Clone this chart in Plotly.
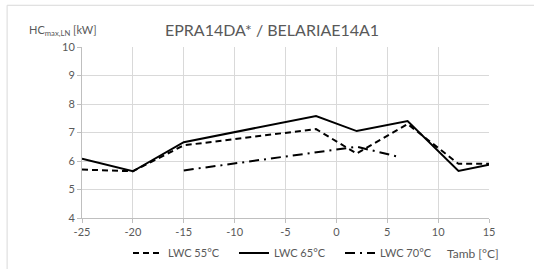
import plotly.graph_objects as go

x55 = [-25, -20, -15, -2, 2, 7, 12, 15]
y55 = [5.70, 5.64, 6.55, 7.12, 6.26, 7.30, 5.90, 5.90]
x65 = [-25, -20, -15, -2, 2, 7, 12, 15]
y65 = [6.08, 5.64, 6.66, 7.58, 7.05, 7.40, 5.65, 5.87]
x70 = [-15, -2, 2, 6.3]
y70 = [5.67, 6.32, 6.50, 6.13]
names = ["LWC 55°C", "LWC 65°C", "LWC 70°C"]
xticks = [-25, -20, -15, -10, -5, 0, 5, 10, 15]
xticklabels = ["-25", "-20", "-15", "-10", "-5", "0", "5", "10", "15"]

FONT = "Lato"
GRAY = "#595959"

fig = go.Figure()
fig.add_trace(go.Scatter(x=x55, y=y55, mode="lines", name=names[0],
                         line=dict(color="black", width=2, dash="6px,4px")))
fig.add_trace(go.Scatter(x=x65, y=y65, mode="lines", name=names[1],
                         line=dict(color="black", width=2)))
fig.add_trace(go.Scatter(x=x70, y=y70, mode="lines", name=names[2],
                         line=dict(color="black", width=2, dash="10px,5px,2px,5px")))

fig.update_layout(
    width=534, height=269,
    margin=dict(l=82, r=45, t=47, b=51),
    paper_bgcolor="white", plot_bgcolor="white",
    font=dict(family=FONT, color=GRAY, size=11),
    showlegend=True,
    legend=dict(orientation="h", x=0.113, xanchor="left", yref="container",
                y=0.0595, yanchor="middle",
                font=dict(size=11, color=GRAY), entrywidth=61, entrywidthmode="pixels",
                bgcolor="rgba(0,0,0,0)", tracegroupgap=0, itemwidth=30),
    xaxis=dict(range=[-25, 15], tickvals=xticks, ticktext=xticklabels,
               showgrid=True, gridcolor="#d9d9d9", gridwidth=1,
               showline=True, linecolor="#bfbfbf", linewidth=1,
               ticks="outside", ticklen=4, tickcolor="#bfbfbf",
               zeroline=False, tickfont=dict(size=11, color=GRAY), automargin=False),
    yaxis=dict(range=[4, 10], dtick=1,
               showgrid=True, gridcolor="#d9d9d9", gridwidth=1,
               showline=True, linecolor="#bfbfbf", linewidth=1,
               ticks="outside", ticklen=4, tickcolor="#bfbfbf",
               zeroline=False, tickfont=dict(size=11, color=GRAY), automargin=False),
    shapes=[
        dict(type="line", xref="paper", yref="paper", x0=-0.184, x1=1.2, y0=1.244, y1=1.244,
             line=dict(color="#d9d9d9", width=1)),
        dict(type="line", xref="paper", yref="paper", x0=-0.184, x1=-0.184, y0=1.244, y1=-0.4,
             line=dict(color="#d9d9d9", width=1)),
    ],
    annotations=[
        dict(text="EPRA14DA* / BELARIAE14A1", xref="paper", yref="paper",
             x=0.468, y=1.10, xanchor="center", yanchor="middle", showarrow=False,
             font=dict(size=16, color=GRAY)),
        dict(text="HC<sub>max,LN</sub> [kW]", xref="paper", yref="paper",
             x=-0.135, y=1.095, xanchor="left", yanchor="middle", showarrow=False,
             font=dict(size=11, color=GRAY)),
        dict(text="Tamb [°C]", xref="paper", yref="paper",
             x=0.96, y=-0.206, xanchor="center", yanchor="middle", showarrow=False,
             font=dict(size=12, color=GRAY)),
    ],
)

fig.write_html("out.html", config={"displayModeBar": False},
               post_script="document.body.style.margin='0';document.body.style.overflow='hidden';")
